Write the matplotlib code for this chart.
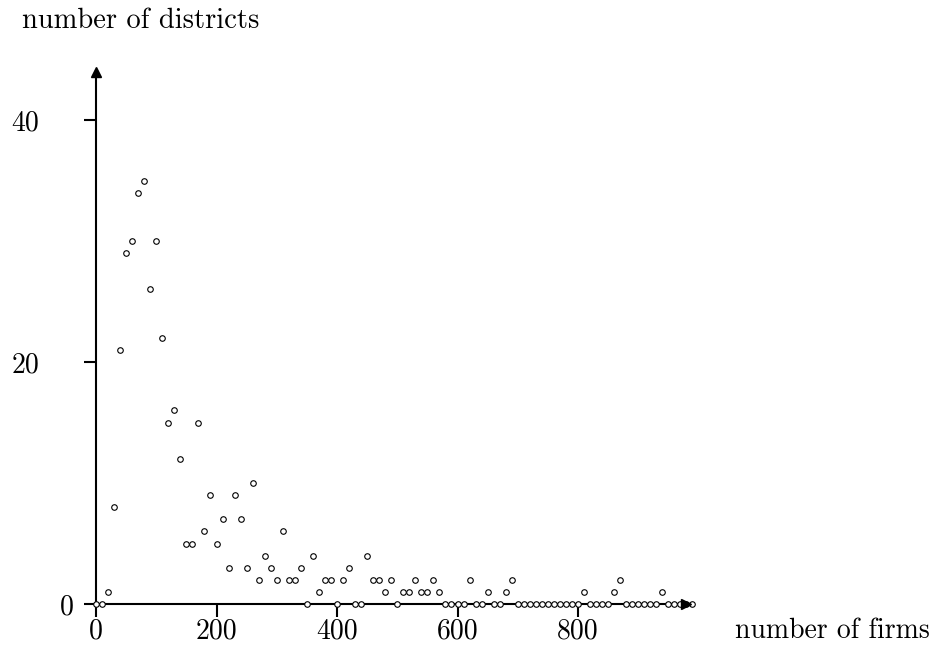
"""
number of districts vs number of firms
"""

import numpy as np
import matplotlib
matplotlib.use('Agg')
import matplotlib.pyplot as plt

plt.rcParams['font.family'] = ['cmr10', 'DejaVu Serif']
plt.rcParams['axes.formatter.use_mathtext'] = True

# firms per district, in bins of 10
firms = np.arange(0, 1000, 10)
districts = [0, 0, 1, 8, 21, 29, 30, 34, 35, 26,
             30, 22, 15, 16, 12, 5, 5, 15, 6, 9,
             5, 7, 3, 9, 7, 3, 10, 2, 4, 3,
             2, 6, 2, 2, 3, 0, 4, 1, 2, 2,
             0, 2, 3, 0, 0, 4, 2, 2, 1, 2,
             0, 1, 1, 2, 1, 1, 2, 1, 0, 0,
             0, 0, 2, 0, 0, 1, 0, 0, 1, 2,
             0, 0, 0, 0, 0, 0, 0, 0, 0, 0,
             0, 1, 0, 0, 0, 0, 1, 2, 0, 0,
             0, 0, 0, 0, 1, 0, 0, 0, 0, 0]

x_ticks = [0, 200, 400, 600, 800]
y_ticks = [0, 20, 40]

W, H = 935, 645
fig = plt.figure(figsize=(W / 100, H / 100), dpi=100)

# axes box in pixels: x=0 at 96, y=0 at 604
x0, y0 = 96, 604
x1, y1 = 686, 72
ax = fig.add_axes([x0 / W, 1 - y0 / H, (x1 - x0) / W, (y0 - y1) / H])
ax.set_xlim(0, (x1 - x0) / 0.6025)
ax.set_ylim(0, (y0 - y1) / 12.1)

ax.plot(firms, districts, 'o', mfc='white', mec='black', ms=4, mew=0.8,
        clip_on=False, zorder=3)

for s in ['top', 'right']:
    ax.spines[s].set_visible(False)
for s in ['left', 'bottom']:
    ax.spines[s].set_linewidth(1.5)

# arrow heads
ax.plot(1, 0, '>', color='black', ms=7, transform=ax.transAxes, clip_on=False, zorder=4)
ax.plot(0, 1, '^', color='black', ms=7, transform=ax.transAxes, clip_on=False, zorder=4)

ax.set_xticks(x_ticks)
ax.set_xticklabels([str(t) for t in x_ticks])
ax.set_yticks(y_ticks)
ax.set_yticklabels([str(t) for t in y_ticks])
ax.tick_params(direction='out', length=9, width=1.5, labelsize=20)
ax.tick_params(axis='x', pad=1.5)
ax.tick_params(axis='y', pad=32)
ax.yaxis.get_major_ticks()[0].set_pad(7)

fig.text(22 / W, 1 - 28 / H, 'number of districts', fontsize=20.5, va='baseline')
fig.text(735 / W, 1 - 638 / H, 'number of firms', fontsize=20, va='baseline')

fig.savefig('out.png', dpi=100)
